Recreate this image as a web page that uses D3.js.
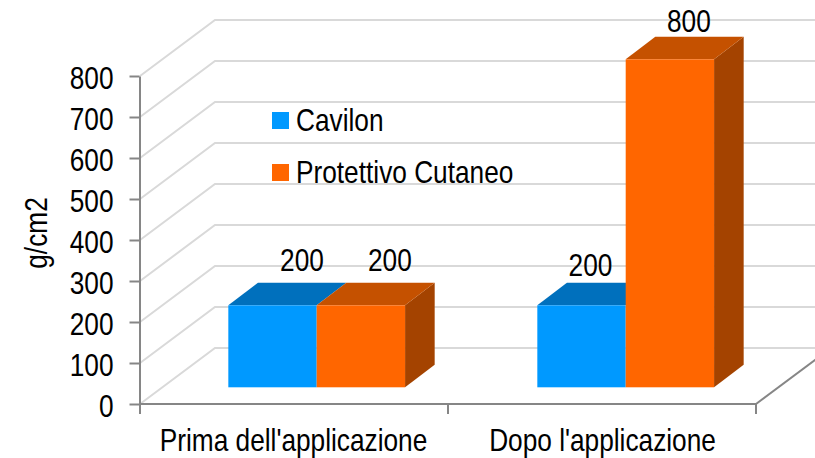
<!DOCTYPE html>
<html>
<head>
<meta charset="utf-8">
<script src="https://cdnjs.cloudflare.com/ajax/libs/d3/7.8.5/d3.min.js"></script>
<style>
	body { margin: 0; background: #fff; }
	text { font-family: "Liberation Sans", Arial, sans-serif; fill: #000; }
</style>
</head>
<body>
<script>
var categories = ["Prima dell'applicazione", "Dopo l'applicazione"];
var seriesNames = ["Cavilon", "Protettivo Cutaneo"];
var cavilon = [200, 200];
var protettivo = [200, 800];
var yTicks = [0, 100, 200, 300, 400, 500, 600, 700, 800];

var colors = {
	Cavilon: { front: "#0099ff", top: "#0070bd", side: "#00578f" },
	"Protettivo Cutaneo": { front: "#ff6600", top: "#c55100", side: "#a44300" }
};

var w = 815, h = 458;
var fontSize = 32;
var squeeze = 0.82; // the original picture is narrowed

var svg = d3.select("body").append("svg")
	.attr("width", w)
	.attr("height", h)
	.style("display", "block");

var x = d3.scaleBand().domain(categories).range([140, 758]).paddingInner(0.428).paddingOuter(0.214);
var xSeries = d3.scaleBand().domain(seriesNames).range([0, x.bandwidth()]);
var xTick = d3.scaleLinear().domain([0, 2]).range([140, 756]);
var y = d3.scaleLinear().domain([0, 800]).range([404, 76]);

// oblique projection of the 3d box
var wallDx = 75, wallDy = -56;
var barFrontDx = 22.2, barFrontDy = -16.7;
var barDepthDx = 29.6, barDepthDy = -22.5;

// walls and gridlines
var grid = svg.append("g");
yTicks.forEach(function(t) {
	var pts = [[140, y(t)], [140 + wallDx, y(t) + wallDy], [w, y(t) + wallDy]];
	grid.append("polyline")
		.attr("points", pts.join(" "))
		.attr("fill", "none")
		.attr("stroke", "#d9d9d9")
		.attr("stroke-width", 2);
});

// floor edge on the right
svg.append("line")
	.attr("x1", 756).attr("y1", y(0))
	.attr("x2", 756 + wallDx).attr("y2", y(0) + wallDy)
	.attr("stroke", "#868686")
	.attr("stroke-width", 2);

// bars
var rows = [];
categories.forEach(function(c, i) {
	rows.push({ cat: c, name: seriesNames[0], value: cavilon[i] });
	rows.push({ cat: c, name: seriesNames[1], value: protettivo[i] });
});

var bars = svg.selectAll("g.bar").data(rows).enter().append("g").attr("class", "bar");

function barBox(d) {
	return {
		x0: x(d.cat) + xSeries(d.name) + barFrontDx,
		x1: x(d.cat) + xSeries(d.name) + xSeries.bandwidth() + barFrontDx,
		y0: y(0) + barFrontDy,
		y1: y(d.value) + barFrontDy
	};
}

// the first bar of a pair has its side hidden by the second one
bars.filter(function(d) { return d.name == seriesNames[1]; }).append("polygon")
	.attr("fill", function(d) { return colors[d.name].side; })
	.attr("points", function(d) {
		var b = barBox(d);
		return [[b.x1, b.y0], [b.x1 + barDepthDx, b.y0 + barDepthDy], [b.x1 + barDepthDx, b.y1 + barDepthDy], [b.x1, b.y1]].join(" ");
	});

bars.append("polygon")
	.attr("fill", function(d) { return colors[d.name].top; })
	.attr("points", function(d) {
		var b = barBox(d);
		return [[b.x0, b.y1], [b.x0 + barDepthDx, b.y1 + barDepthDy], [b.x1 + barDepthDx, b.y1 + barDepthDy], [b.x1, b.y1]].join(" ");
	});

bars.append("rect")
	.attr("fill", function(d) { return colors[d.name].front; })
	.attr("x", function(d) { return barBox(d).x0; })
	.attr("y", function(d) { return barBox(d).y1; })
	.attr("width", xSeries.bandwidth())
	.attr("height", function(d) { return barBox(d).y0 - barBox(d).y1; });

// data labels, moved by hand in the original so each has its own nudge
var labelNudge = [[29.5, -12], [29, -12], [9, -7], [19, -5]];
svg.selectAll("text.value").data(rows).enter().append("text")
	.attr("class", "value")
	.attr("text-anchor", "middle")
	.attr("font-size", fontSize)
	.attr("x", function(d, i) { var b = barBox(d); return (b.x0 + b.x1) / 2 + labelNudge[i][0]; })
	.attr("y", function(d, i) { return barBox(d).y1 + barDepthDy + labelNudge[i][1]; })
	.text(function(d) { return d.value; });

// y axis
var yAxis = svg.append("g")
	.attr("transform", "translate(139.5,0)")
	.call(d3.axisLeft(y).tickValues(yTicks).tickSize(10).tickPadding(16).tickSizeOuter(0));
yAxis.selectAll("path, line").attr("stroke", "#868686").attr("stroke-width", 2);
yAxis.selectAll("text").attr("font-size", fontSize).attr("dy", "0.39em").style("font-family", null);

// x axis
var xAxis = svg.append("g")
	.attr("transform", "translate(-1," + y(0) + ")")
	.call(d3.axisBottom(x).tickSize(0).tickPadding(24).tickSizeOuter(0));
xAxis.select("path").remove();
xAxis.selectAll("text").attr("font-size", fontSize).style("font-family", null);

d3.range(3).forEach(function(i) {
	svg.append("line")
		.attr("x1", xTick(i)).attr("x2", xTick(i))
		.attr("y1", y(0)).attr("y2", y(0) + 10)
		.attr("stroke", "#868686")
		.attr("stroke-width", 2);
});
svg.append("line")
	.attr("x1", xTick(0)).attr("x2", xTick(2))
	.attr("y1", y(0)).attr("y2", y(0))
	.attr("stroke", "#868686")
	.attr("stroke-width", 2);

// y title
svg.append("text")
	.attr("class", "title")
	.attr("transform", "translate(47,233) rotate(-90)")
	.attr("text-anchor", "middle")
	.attr("font-size", fontSize)
	.text("g/cm2");

// legend
var legend = svg.selectAll("g.legend").data(seriesNames).enter().append("g")
	.attr("class", "legend")
	.attr("transform", function(d, i) { return "translate(272," + (112 + i * 52) + ")"; });
legend.append("rect")
	.attr("width", 17)
	.attr("height", 17)
	.attr("fill", function(d) { return colors[d].front; });
legend.append("text")
	.attr("x", 24)
	.attr("y", 19)
	.attr("font-size", fontSize)
	.text(function(d) { return d; });

// narrow all the text like the original
svg.selectAll("text").each(function() {
	var len = this.getComputedTextLength();
	d3.select(this).attr("textLength", len * squeeze).attr("lengthAdjust", "spacingAndGlyphs");
});
</script>
</body>
</html>
